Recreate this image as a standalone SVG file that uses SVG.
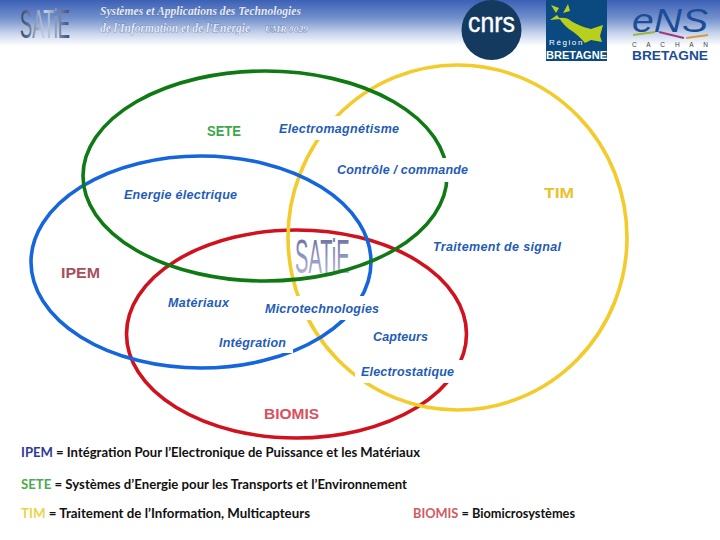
<svg xmlns="http://www.w3.org/2000/svg" width="720" height="540" viewBox="0 0 720 540">
<defs>
<linearGradient id="hdr" x1="0" y1="0" x2="0" y2="1"><stop offset="0" stop-color="#3c60b6"/><stop offset="0.4" stop-color="#7391cc"/><stop offset="0.75" stop-color="#cdd8ee"/><stop offset="1" stop-color="#fff"/></linearGradient>
<linearGradient id="sat" x1="0" y1="0" x2="0" y2="1"><stop offset="0" stop-color="#5f649c"/><stop offset="1" stop-color="#c4c6e0"/></linearGradient>
<linearGradient id="sat2" x1="0" y1="0" x2="1" y2="0"><stop offset="0" stop-color="#2c3f66"/><stop offset="0.5" stop-color="#c8d2e6"/><stop offset="1" stop-color="#3a4c72"/></linearGradient>
</defs>
<style>
.c{fill:none;stroke-width:3.6}
.l{font:italic bold 12.5px "Liberation Sans",Arial,sans-serif;fill:#1f5cb8}
.k{font:bold 14.5px "Liberation Sans",Arial,sans-serif}
.d{font:bold 12.5px Lato,"Liberation Sans",sans-serif;fill:#111}
.m{fill:#fff}
.h{font-family:"Liberation Serif",serif;font-style:italic;font-weight:bold;fill:#e3e9f6;stroke:#4a6299;stroke-width:.5;paint-order:stroke}
</style>
<rect width="720" height="46" fill="url(#hdr)"/>
<g id="header">
<text transform="translate(20,38) scale(.448,1)" x="0" y="0" font-family="Liberation Sans,sans-serif" font-size="41" fill="url(#sat2)">SATiE</text>
<text class="h" x="100" y="15" font-size="11.500" textLength="201" lengthAdjust="spacingAndGlyphs">Systèmes et Applications des Technologies</text>
<text class="h" x="100" y="32" font-size="11.500" textLength="150" lengthAdjust="spacingAndGlyphs">de l'Information et de l'Energie</text>
<text class="h" x="265" y="32" font-size="8.500" textLength="43" lengthAdjust="spacingAndGlyphs">UMR 8029</text>
</g>
<g id="logo-cnrs"><circle cx="491.500" cy="30" r="30" fill="#143a5f"/><text x="468" y="32" font-family="Liberation Sans,sans-serif" font-size="27" fill="#fff" stroke="#fff" stroke-width=".4" textLength="47" lengthAdjust="spacingAndGlyphs">cnrs</text></g>
<g id="logo-bretagne"><rect x="546" y="0" width="61" height="61" fill="#0b4a80"/><path d="M551 5l8 3-3 5zM568 4l2 7-7 2zM550 20l7-5 3 4zM559 18q8-1 12 3 8 5 20 8l12-4-3 11 2 6-11-2-6 3q-8-9-13-12-7-4-13-13z" fill="#b8d01c"/><text x="549" y="45" font-family="Liberation Sans,sans-serif" font-size="8" letter-spacing="1.6" fill="#fff">Région</text><text x="546" y="59" font-family="Liberation Sans,sans-serif" font-size="11.500" font-weight="bold" fill="#fff" textLength="61" lengthAdjust="spacingAndGlyphs">BRETAGNE</text></g>
<g id="logo-ens"><text transform="translate(632,32) scale(1.15,1)" x="0" y="0" font-family="Liberation Sans,sans-serif" font-style="italic" font-size="34" fill="#1c4c96">eNS</text><path d="M633 35l22-3" stroke="#9bb53a" stroke-width="2" fill="none"/><path d="M659 32l25 6" stroke="#a2357e" stroke-width="2" fill="none"/><path d="M686 38l22-3" stroke="#d99a3c" stroke-width="2" fill="none"/><text x="632" y="47" font-family="Liberation Sans,sans-serif" font-size="6.500" fill="#444" textLength="76">C A C H A N</text><text x="632" y="60" font-family="Liberation Sans,sans-serif" font-size="12.500" font-weight="bold" fill="#1c4c96" textLength="76" lengthAdjust="spacingAndGlyphs">BRETAGNE</text></g>
<g id="satie-logo"><text transform="translate(295,273) scale(.419,1)" x="0" y="0" font-family="Liberation Sans,sans-serif" font-size="48" fill="url(#sat)">SATiE</text></g>
<g id="connectors">
<ellipse class="c" cx="296.500" cy="334" rx="170" ry="104" stroke="#d0121e"/>
<ellipse class="c" cx="457.500" cy="237.500" rx="169.500" ry="172.500" stroke="#f3cb2d"/>
<ellipse class="c" cx="201" cy="262" rx="170" ry="106" stroke="#1565dc"/>
<ellipse class="c" cx="265" cy="176" rx="182" ry="105" stroke="#0f7a14"/>
</g>
<g id="SETE"><text class="k" x="207" y="136" fill="#3da84a" textLength="34" lengthAdjust="spacingAndGlyphs">SETE</text></g>
<g id="TIM"><text class="k" x="544" y="198" fill="#e8c22a" textLength="30" lengthAdjust="spacingAndGlyphs">TIM</text></g>
<g id="IPEM"><text class="k" x="61" y="278" fill="#a8505a" textLength="39" lengthAdjust="spacingAndGlyphs">IPEM</text></g>
<g id="BIOMIS"><text class="k" x="264" y="419" fill="#d9505c" textLength="55" lengthAdjust="spacingAndGlyphs">BIOMIS</text></g>
<g id="n1"><rect class="m" x="276" y="116" width="127" height="24"/><text class="l" x="279" y="133" textLength="120">Electromagnétisme</text></g>
<g id="n2"><rect class="m" x="334" y="158" width="137" height="24"/><text class="l" x="337" y="174" textLength="131">Contrôle / commande</text></g>
<g id="n3"><text class="l" x="124" y="199" textLength="113">Energie électrique</text></g>
<g id="n4"><text class="l" x="433" y="251" textLength="128">Traitement de signal</text></g>
<g id="n5"><text class="l" x="168" y="307" textLength="61">Matériaux</text></g>
<g id="n6"><rect class="m" x="262" y="296" width="120" height="24"/><text class="l" x="265" y="313" textLength="114">Microtechnologies</text></g>
<g id="n7"><rect class="m" x="216" y="330" width="77" height="23"/><text class="l" x="219" y="347" textLength="67">Intégration</text></g>
<g id="n8"><text class="l" x="373" y="341" textLength="55">Capteurs</text></g>
<g id="n9"><rect class="m" x="355" y="360" width="110" height="23"/><text class="l" x="361" y="376" textLength="93">Electrostatique</text></g>
<g id="legend">
<text class="d" x="21" y="457" textLength="399" lengthAdjust="spacingAndGlyphs"><tspan fill="#2d3a94">IPEM</tspan> = Intégration Pour l’Electronique de Puissance et les Matériaux</text>
<text class="d" x="21" y="489" textLength="386" lengthAdjust="spacingAndGlyphs"><tspan fill="#4daa50">SETE</tspan> = Systèmes d’Energie pour les Transports et l’Environnement</text>
<text class="d" x="21" y="518" textLength="289" lengthAdjust="spacingAndGlyphs"><tspan fill="#e8d44a">TIM</tspan> = Traitement de l’Information, Multicapteurs</text>
<text class="d" x="413" y="518" textLength="162" lengthAdjust="spacingAndGlyphs"><tspan fill="#cf5a60">BIOMIS</tspan> = Biomicrosystèmes</text>
</g>
</svg>
